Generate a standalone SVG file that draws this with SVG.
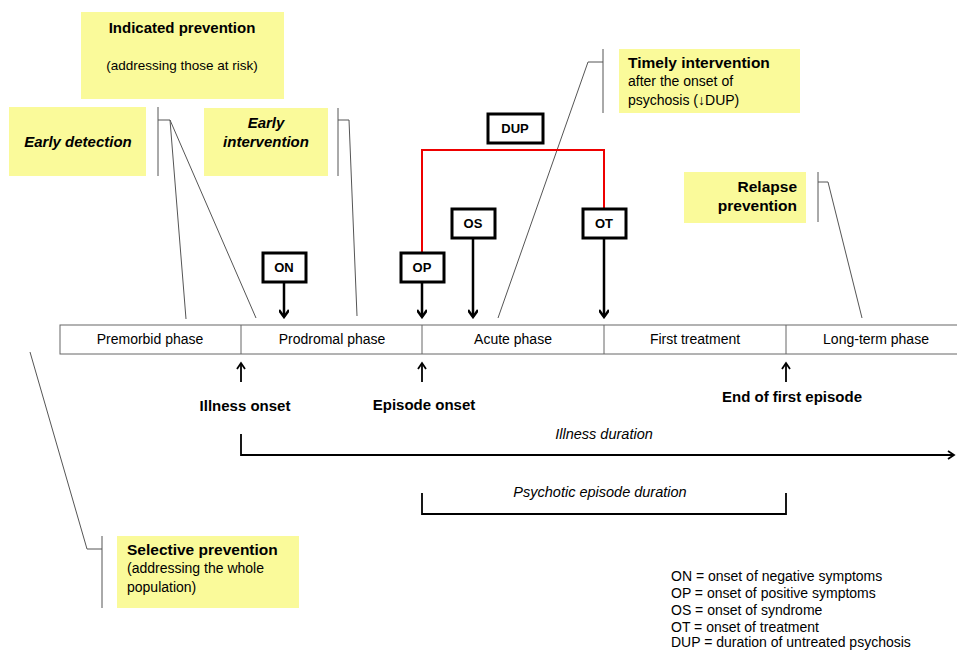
<svg xmlns="http://www.w3.org/2000/svg" width="957" height="651" viewBox="0 0 957 651">
<style>
text{font-family:"Liberation Sans","Noto Sans",Arial,sans-serif;fill:#000}
.y{fill:#fafa9a}
.call{stroke:#555;stroke-width:1;fill:none}
.b{font-weight:bold}
.bi{font-weight:bold;font-style:italic}
.ph{font-size:14px;text-anchor:middle}
.mk{fill:#fff;stroke:#000;stroke-width:3}
.mt{font-size:13px;font-weight:bold;text-anchor:middle}
.ar{stroke:#000;stroke-width:2.5;fill:none}
.leg{font-size:14px}
</style>
<defs>
<marker id="ah" markerWidth="10" markerHeight="10" refX="8" refY="5" orient="auto" markerUnits="userSpaceOnUse">
<path d="M1,0 L8,5 L1,10" fill="none" stroke="#000" stroke-width="2.5"/>
</marker>
<marker id="ahs" markerWidth="10" markerHeight="10" refX="8" refY="5" orient="auto" markerUnits="userSpaceOnUse">
<path d="M2,1 L8,5 L2,9" fill="none" stroke="#000" stroke-width="1.8"/>
</marker>
</defs>

<g id="indicated-prevention">
<rect class="y" x="81" y="12" width="203" height="87"/>
<text class="b" x="182" y="33" font-size="15" text-anchor="middle">Indicated prevention</text>
<text x="182" y="70" font-size="13.5" text-anchor="middle">(addressing those at risk)</text>
</g>
<g id="early-detection">
<rect class="y" x="9" y="107" width="137" height="69"/>
<text class="bi" x="78" y="147" font-size="15" text-anchor="middle">Early detection</text>
</g>
<g id="early-intervention">
<rect class="y" x="204" y="108" width="124" height="68"/>
<text class="bi" x="266" y="128" font-size="15" text-anchor="middle">Early</text>
<text class="bi" x="266" y="147" font-size="15" text-anchor="middle">intervention</text>
</g>
<g id="timely-intervention">
<rect class="y" x="619" y="49" width="181" height="64"/>
<text class="b" x="628" y="68" font-size="15.5">Timely intervention</text>
<text x="628" y="86" font-size="14">after the onset of</text>
<text x="628" y="105" font-size="14">psychosis (↓DUP)</text>
</g>
<g id="relapse-prevention">
<rect class="y" x="684" y="172" width="122" height="51"/>
<text class="b" x="797" y="192" font-size="15.5" text-anchor="end">Relapse</text>
<text class="b" x="797" y="211" font-size="15.5" text-anchor="end">prevention</text>
</g>
<g id="selective-prevention">
<rect class="y" x="117" y="536" width="182" height="72"/>
<text class="b" x="127" y="555" font-size="15.5">Selective prevention</text>
<text x="127" y="573" font-size="14">(addressing the whole</text>
<text x="127" y="592" font-size="14">population)</text>
</g>

<g id="callouts">
<path class="call" d="M158,107 V176 M158,120 H170 L186,319 M170,120 L256,318"/>
<path class="call" d="M338,108 V176 M338,120 H349 L357,316"/>
<path class="call" d="M603,49 V113 M603,62 H588 L498,318"/>
<path class="call" d="M818,172 V222 M818,182 H828 L862,318"/>
<path class="call" d="M102,536 V608 M102,549 H87 L30,352"/>
</g>

<g id="phases">
<rect x="60" y="325" width="905" height="29" fill="#fff" stroke="#666" stroke-width="1"/>
<path d="M241,325 V354 M422,325 V354 M604,325 V354 M786,325 V354" stroke="#666" stroke-width="1"/>
<text class="ph" x="150" y="344">Premorbid phase</text>
<text class="ph" x="332" y="344">Prodromal phase</text>
<text class="ph" x="513" y="344">Acute phase</text>
<text class="ph" x="695" y="344">First treatment</text>
<text class="ph" x="876" y="344">Long-term phase</text>
</g>

<g id="markers">
<path d="M422,252 V150 H604 V208" stroke="#e00" stroke-width="2" fill="none"/>
<g id="ON"><rect class="mk" x="263" y="253" width="43" height="29"/><text class="mt" x="284" y="272">ON</text></g>
<g id="OP"><rect class="mk" x="401" y="253" width="43" height="29"/><text class="mt" x="422" y="272">OP</text></g>
<g id="OS"><rect class="mk" x="452" y="209" width="43" height="29"/><text class="mt" x="473" y="228">OS</text></g>
<g id="OT"><rect class="mk" x="583" y="209" width="43" height="29"/><text class="mt" x="604" y="228">OT</text></g>
<g id="DUP"><rect class="mk" x="488" y="114" width="55" height="29"/><text class="mt" x="515" y="133">DUP</text></g>
</g>

<g id="connectors">
<line class="ar" x1="284" y1="282" x2="284" y2="317" marker-end="url(#ah)"/>
<line class="ar" x1="422" y1="282" x2="422" y2="317" marker-end="url(#ah)"/>
<line class="ar" x1="473" y1="238" x2="473" y2="317" marker-end="url(#ah)"/>
<line class="ar" x1="604" y1="238" x2="604" y2="317" marker-end="url(#ah)"/>
<line x1="241" y1="382" x2="241" y2="363" stroke="#000" stroke-width="1.8" marker-end="url(#ahs)"/>
<line x1="422" y1="382" x2="422" y2="363" stroke="#000" stroke-width="1.8" marker-end="url(#ahs)"/>
<line x1="786" y1="382" x2="786" y2="363" stroke="#000" stroke-width="1.8" marker-end="url(#ahs)"/>
<path d="M241,434 V455 H954" stroke="#000" stroke-width="1.8" fill="none" marker-end="url(#ahs)"/>
<path d="M422,493 V514 H786 V493" stroke="#000" stroke-width="1.8" fill="none"/>
</g>

<g id="labels">
<text class="b" x="245" y="411" font-size="15" text-anchor="middle">Illness onset</text>
<text class="b" x="424" y="410" font-size="15" text-anchor="middle">Episode onset</text>
<text class="b" x="792" y="402" font-size="15" text-anchor="middle">End of first episode</text>
<text x="604" y="439" font-size="14.5" font-style="italic" text-anchor="middle">Illness duration</text>
<text x="600" y="497" font-size="14.5" font-style="italic" text-anchor="middle">Psychotic episode duration</text>
</g>

<g id="legend">
<text class="leg" x="671" y="581">ON = onset of negative symptoms</text>
<text class="leg" x="671" y="598">OP = onset of positive symptoms</text>
<text class="leg" x="671" y="615">OS = onset of syndrome</text>
<text class="leg" x="671" y="632">OT = onset of treatment</text>
<text class="leg" x="671" y="647">DUP = duration of untreated psychosis</text>
</g>
</svg>
